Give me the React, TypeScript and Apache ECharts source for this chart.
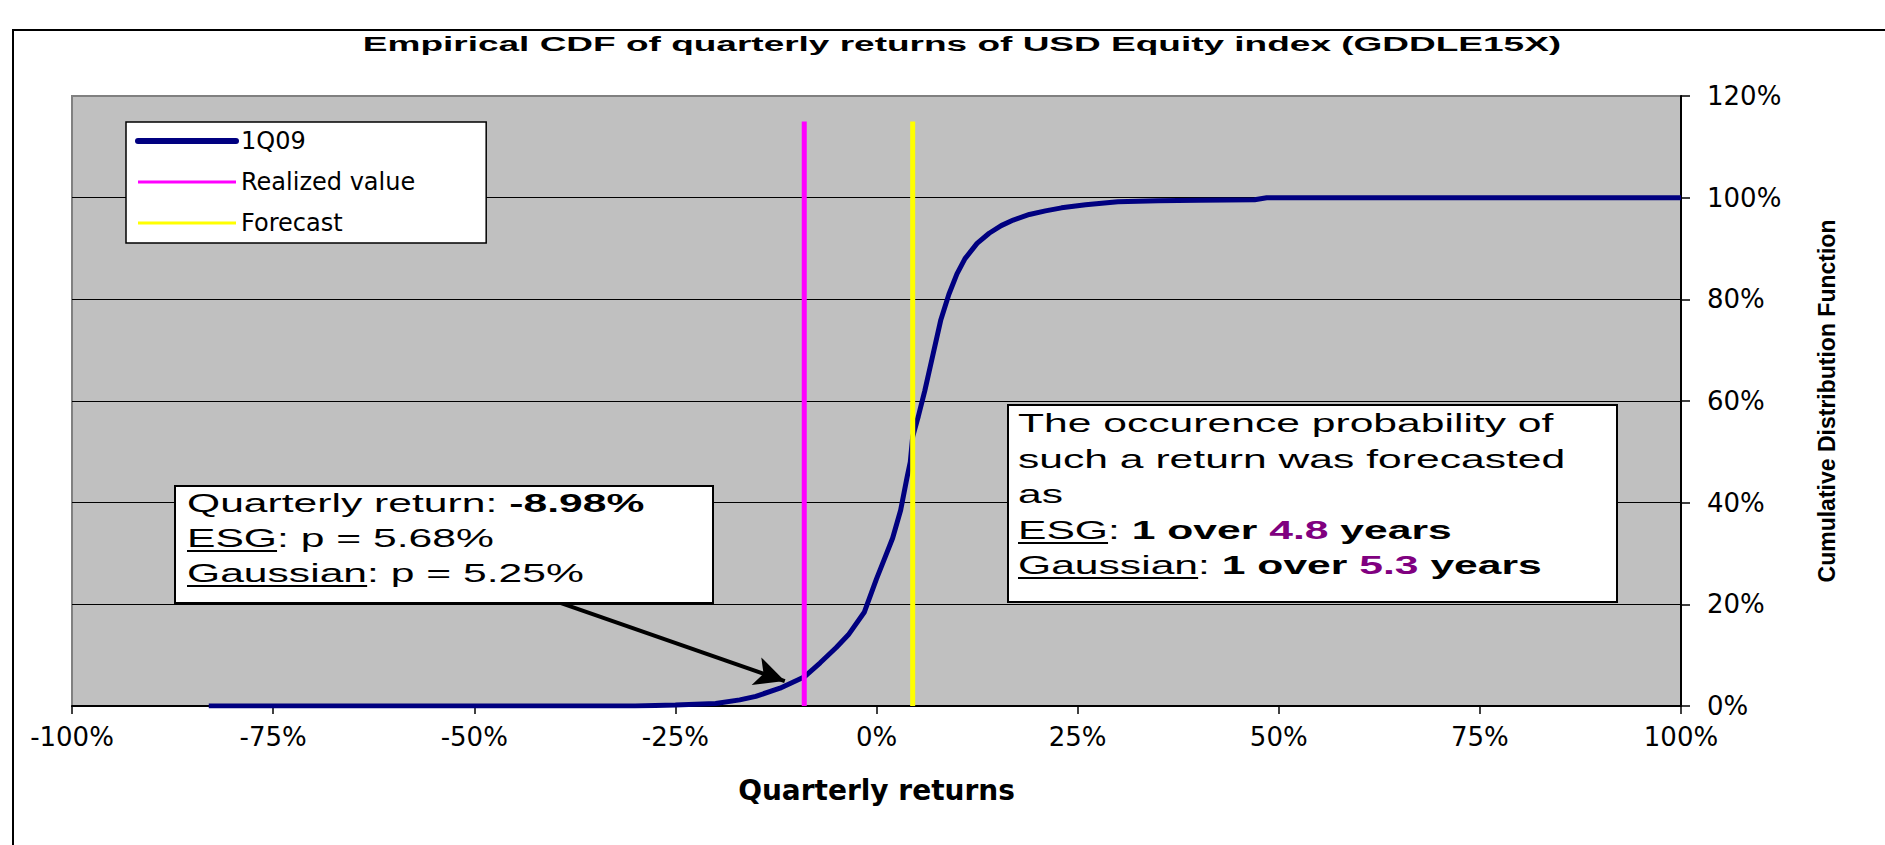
import React, { useEffect, useRef } from "react";
import * as echarts from "echarts";

// ---- data ----
const seriesNames = ["1Q09", "Realized value", "Forecast"];
const returnsPct = [-83, -30, -25, -20, -17, -15, -12, -9, -7, -5, -3.5, -1.5, 0, 1, 2, 3, 3.8, 4.2, 4.5, 5.2, 6, 7, 8, 9, 10, 11, 12.5, 14, 15.5, 17, 19, 21, 23, 26, 30, 35, 40, 47, 48.5, 100];
const cdfPct = [0, 0, 0.2, 0.5, 1.2, 1.9, 3.5, 5.7, 8.5, 11.5, 14, 18.5, 25, 29, 33, 38.5, 45, 48, 53, 57, 62, 69, 76, 81, 85, 88, 91, 93, 94.5, 95.6, 96.7, 97.4, 98, 98.6, 99.2, 99.4, 99.5, 99.6, 100, 100];
const realizedValue = -8.98;
const forecastValue = 4.5;
const verticalSpan = [0, 115];
const arrowFrom = [-39.3, 20.3];
const arrowTo = [-11.4, 4.9];
const xRange = [-100, 100, 25];
const yRange = [0, 120, 20];

const titleText = "Empirical CDF of quarterly returns of USD Equity index (GDDLE15X)";
const box1Lines = [
  { u: "", t: "{n|Quarterly return: }{b|-8.98%}" },
  { u: "ESG", t: "{n|ESG: p = 5.68%}" },
  { u: "Gaussian", t: "{n|Gaussian: p = 5.25%}" },
];
const box2Lines = [
  { u: "", t: "{n|The occurence probability of}" },
  { u: "", t: "{n|such a return was forecasted}" },
  { u: "", t: "{n|as}" },
  { u: "ESG", t: "{n|ESG: }{b|1 over }{p|4.8}{b| years}" },
  { u: "Gaussian", t: "{n|Gaussian: }{b|1 over }{p|5.3}{b| years}" },
];

const FONT = "Liberation Sans";

export default function App() {
  const ref = useRef<HTMLDivElement>(null);

  useEffect(() => {
    if (!ref.current) return;
    const chart = echarts.init(ref.current, null, { renderer: "svg" });

    const ctx = document.createElement("canvas").getContext("2d")!;
    const measure = (t: string, size: number, weight = "normal") => {
      ctx.font = `${weight} ${size}px "${FONT}"`;
      return ctx.measureText(t).width;
    };

    const BOX_FS = 26;
    const SX = 1.64;
    const rich = {
      n: { fontSize: BOX_FS, fontFamily: FONT, fill: "#000", color: "#000" },
      b: { fontSize: BOX_FS, fontFamily: FONT, fontWeight: "bold", fill: "#000", color: "#000" },
      p: { fontSize: BOX_FS, fontFamily: FONT, fontWeight: "bold", fill: "#800080", color: "#800080" },
    };

    const textGroup = (lines: { u: string; t: string }[], left: number, ys: number[]) => {
      const children: any[] = [];
      lines.forEach((ln, i) => {
        children.push({
          type: "text",
          z: 102,
          x: 0,
          y: ys[i],
          style: {
            text: ln.t,
            rich,
            fontSize: BOX_FS,
            fontFamily: FONT,
            fill: "#000",
            align: "left",
            textAlign: "left",
            verticalAlign: "middle",
            textVerticalAlign: "middle",
          },
        });
        if (ln.u) {
          const w = measure(ln.u, BOX_FS);
          children.push({
            type: "line",
            z: 102,
            shape: { x1: 0, y1: ys[i] + 13, x2: w, y2: ys[i] + 13 },
            style: { stroke: "#000", lineWidth: 1.8 },
          });
        }
      });
      return { type: "group", z: 102, x: left, y: 0, scaleX: SX, children };
    };

    const option: any = {
      animation: false,
      textStyle: { fontFamily: FONT },
      grid: {
        left: 72,
        right: 204,
        top: 96,
        bottom: 139,
        show: true,
        backgroundColor: "#C0C0C0",
        borderColor: "#808080",
        borderWidth: 2,
      },
      legend: {
        orient: "vertical",
        left: 126,
        top: 122,
        padding: [7, 71, 8, 9],
        itemWidth: 98,
        itemHeight: 14,
        itemGap: 17,
        backgroundColor: "#fff",
        borderColor: "#000",
        borderWidth: 1.5,
        borderRadius: 0,
        selectedMode: false,
        itemStyle: { opacity: 0 },
        textStyle: { fontFamily: "DejaVu Sans", fontSize: 24, color: "#000" },
        data: [
          { name: seriesNames[0], itemStyle: { opacity: 0 }, lineStyle: { width: 6, cap: "round" } },
          { name: seriesNames[1], itemStyle: { opacity: 0 }, lineStyle: { width: 3 } },
          { name: seriesNames[2], itemStyle: { opacity: 0 }, lineStyle: { width: 3 } },
        ],
      },
      xAxis: {
        type: "value",
        min: xRange[0],
        max: xRange[1],
        interval: xRange[2],
        name: "Quarterly returns",
        nameLocation: "middle",
        nameGap: 70,
        nameTextStyle: { fontFamily: "DejaVu Sans", fontWeight: "bold", fontSize: 28, color: "#000" },
        axisLine: { show: true, onZero: false, lineStyle: { color: "#000", width: 2 } },
        axisTick: { show: true, length: 8, lineStyle: { color: "#000", width: 1.5 } },
        axisLabel: {
          formatter: (v: number) => `${v}%`,
          fontFamily: "DejaVu Sans",
          fontSize: 26,
          color: "#000",
          margin: 18,
          showMinLabel: true,
          showMaxLabel: true,
        },
        splitLine: { show: false },
      },
      yAxis: {
        type: "value",
        position: "right",
        min: yRange[0],
        max: yRange[1],
        interval: yRange[2],
        name: "Cumulative Distribution Function",
        nameLocation: "middle",
        nameGap: 134,
        nameTextStyle: { fontFamily: FONT, fontWeight: "bold", fontSize: 23, color: "#000" },
        axisLine: { show: true, onZero: false, lineStyle: { color: "#000", width: 2 } },
        axisTick: { show: true, length: 9, lineStyle: { color: "#000", width: 1.5 } },
        axisLabel: {
          formatter: (v: number) => `${v}%`,
          fontFamily: "DejaVu Sans",
          fontSize: 26,
          color: "#000",
          margin: 26,
          showMinLabel: true,
          showMaxLabel: true,
        },
        splitLine: {
          show: true,
          lineStyle: { color: ["#000", "#000", "#000", "#000", "#000", "#000", "#808080"], width: 1.2 },
        },
      },
      series: [
        {
          type: "line",
          name: seriesNames[0],
          data: returnsPct.map((x, i) => [x, cdfPct[i]]),
          symbol: "none",
          lineStyle: { color: "#000080", width: 5 },
          itemStyle: { color: "#000080" },
          z: 3,
          markLine: {
            silent: true,
            symbol: ["none", "arrow"],
            symbolSize: [22, 30],
            label: { show: false },
            lineStyle: { color: "#000", width: 4, type: "solid" },
            itemStyle: { color: "#000" },
            emphasis: { disabled: true },
            data: [[{ coord: arrowFrom }, { coord: arrowTo }]],
          },
        },
        {
          type: "line",
          name: seriesNames[1],
          data: verticalSpan.map((y) => [realizedValue, y]),
          symbol: "none",
          lineStyle: { color: "#FF00FF", width: 5 },
          itemStyle: { color: "#FF00FF" },
          z: 4,
        },
        {
          type: "line",
          name: seriesNames[2],
          data: verticalSpan.map((y) => [forecastValue, y]),
          symbol: "none",
          lineStyle: { color: "#FFFF00", width: 5 },
          itemStyle: { color: "#FFFF00" },
          z: 4,
        },
      ],
      graphic: [
        {
          type: "rect",
          z: 100,
          shape: { x: 13, y: 30, width: 1900, height: 900 },
          style: { fill: "none", stroke: "#000", lineWidth: 2 },
        },
        {
          type: "text",
          z: 100,
          x: 962,
          y: 44,
          scaleX: 1.85,
          style: {
            text: titleText,
            fontSize: 20,
            fontWeight: "bold",
            fontFamily: FONT,
            fill: "#000",
            align: "center",
            textAlign: "center",
            verticalAlign: "middle",
            textVerticalAlign: "middle",
          },
        },
        {
          type: "rect",
          z: 100,
          shape: { x: 175, y: 486, width: 538, height: 117 },
          style: { fill: "#fff", stroke: "#000", lineWidth: 2 },
        },
        textGroup(box1Lines, 187, [503, 538, 573]),
        {
          type: "rect",
          z: 100,
          shape: { x: 1008, y: 405, width: 609, height: 197 },
          style: { fill: "#fff", stroke: "#000", lineWidth: 2 },
        },
        textGroup(box2Lines, 1018, [423, 459, 494, 530, 565]),
      ],
    };

    chart.setOption(option);
    return () => chart.dispose();
  }, []);

  return (
    <div
      ref={ref}
      style={{ position: "fixed", left: 0, top: 0, width: 1885, height: 845, background: "#fff" }}
    />
  );
}
